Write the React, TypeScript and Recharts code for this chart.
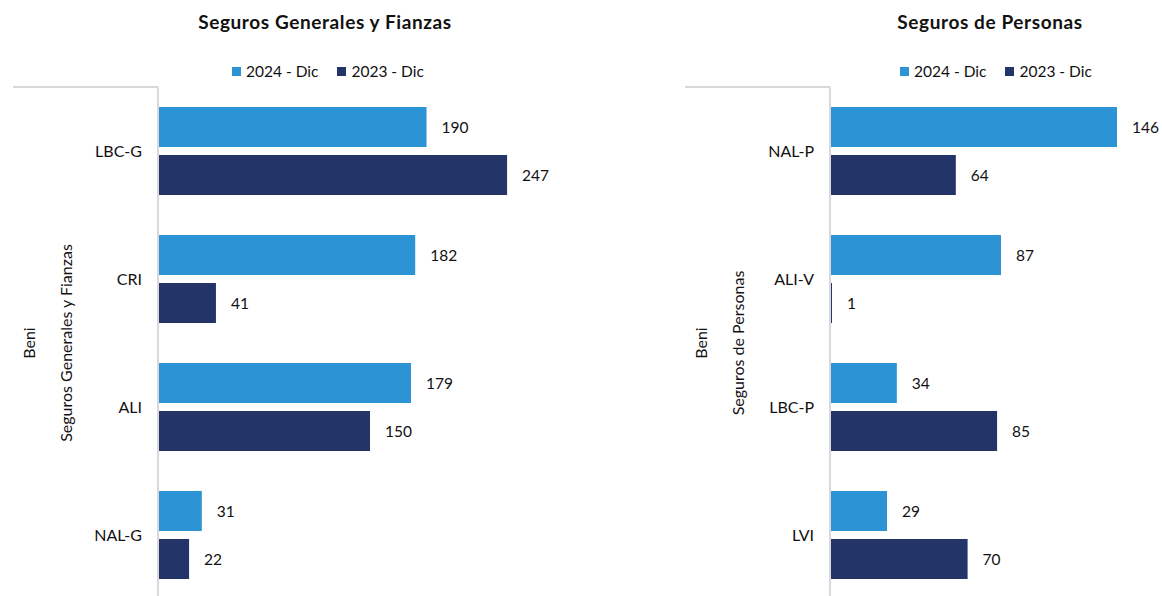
import { BarChart, Bar, XAxis, YAxis, Legend, LabelList } from "recharts";

const categoriesGen = ["LBC-G", "CRI", "ALI", "NAL-G"];
const gen2024 = [190, 182, 179, 31];
const gen2023 = [247, 41, 150, 22];

const categoriesPer = ["NAL-P", "ALI-V", "LBC-P", "LVI"];
const per2024 = [146, 87, 34, 29];
const per2023 = [64, 1, 85, 70];

const seriesNames = ["2024 - Dic", "2023 - Dic"];
const COLORS = ["#2C94D5", "#223468"];
const FONT = "Lato, 'Open Sans', sans-serif";
const GRID = "#d9d9dc";

function GroupLabel({ viewBox, group, region }: any) {
  const { x, y, width, height } = viewBox;
  const right = x + width;
  const cy = y + height / 2;
  return (
    <g>
      <line x1={right - 145} x2={right} y1={y} y2={y} stroke={GRID} strokeWidth={2} />
      <text
        x={right - 93}
        y={cy}
        transform={`rotate(-90 ${right - 93} ${cy})`}
        textAnchor="middle"
        dominantBaseline="central"
        fontSize={16}
        fill="#111"
      >
        {group}
      </text>
      <text
        x={right - 130}
        y={cy}
        transform={`rotate(-90 ${right - 130} ${cy})`}
        textAnchor="middle"
        dominantBaseline="central"
        fontSize={16}
        fill="#111"
      >
        {region}
      </text>
    </g>
  );
}

function LegendContent() {
  return (
    <div style={{ display: "flex", gap: 19, fontSize: 15.5, color: "#111", fontFamily: FONT, whiteSpace: "nowrap" }}>
      {seriesNames.map((n, i) => (
        <div key={n} style={{ display: "flex", alignItems: "center", gap: 5 }}>
          <span style={{ width: 9, height: 9, background: COLORS[i], display: "inline-block" }} />
          <span>{n}</span>
        </div>
      ))}
    </div>
  );
}

interface PanelProps {
  title: string;
  categories: string[];
  a: number[];
  b: number[];
  max: number;
  left: number;
  width: number;
  plotWidth: number;
  titleCenter: number;
  legendLeft: number;
}

function Panel({ title, categories, a, b, max, left, width, plotWidth, titleCenter, legendLeft }: PanelProps) {
  const data = categories.map((c, i) => ({ name: c, v2024: a[i], v2023: b[i] }));
  return (
    <>
      <div
        style={{
          position: "absolute",
          left: titleCenter - 200,
          width: 400,
          top: 10,
          textAlign: "center",
          fontWeight: 700,
          fontSize: 19,
          letterSpacing: 0.6,
          fontFamily: FONT,
          color: "#111",
        }}
      >
        {title}
      </div>
      <div style={{ position: "absolute", left, top: 0 }}>
        <BarChart
          layout="vertical"
          width={width}
          height={600}
          data={data}
          margin={{ top: 87, left: 0, right: width - 158 - plotWidth, bottom: 1 }}
          barCategoryGap={20}
          barGap={8}
          style={{ fontFamily: FONT }}
        >
          <XAxis type="number" hide domain={[0, max]} />
          <YAxis
            type="category"
            dataKey="name"
            width={158}
            axisLine={{ stroke: GRID, strokeWidth: 2 }}
            tickLine={false}
            tickMargin={10}
            tick={{ fill: "#111", fontSize: 16 }}
            label={<GroupLabel group={title} region="Beni" />}
          />
          <Legend
            layout="horizontal"
            verticalAlign="middle"
            align="center"
            wrapperStyle={{ top: 62, left: legendLeft, width: "auto" }}
            content={<LegendContent />}
          />
          <Bar dataKey="v2024" name={seriesNames[0]} fill={COLORS[0]} isAnimationActive={false}>
            <LabelList dataKey="v2024" position="right" offset={15} fill="#111" fontSize={15.5} />
          </Bar>
          <Bar dataKey="v2023" name={seriesNames[1]} fill={COLORS[1]} isAnimationActive={false}>
            <LabelList dataKey="v2023" position="right" offset={15} fill="#111" fontSize={15.5} />
          </Bar>
        </BarChart>
      </div>
    </>
  );
}

export default function App() {
  return (
    <div
      style={{
        position: "absolute",
        left: 0,
        top: 0,
        width: 1162,
        height: 596,
        overflow: "hidden",
        background: "#fff",
        fontFamily: FONT,
      }}
    >
      <Panel
        title="Seguros Generales y Fianzas"
        categories={categoriesGen}
        a={gen2024}
        b={gen2023}
        max={300}
        left={0}
        width={660}
        plotWidth={424}
        titleCenter={325}
        legendLeft={232}
      />
      <Panel
        title="Seguros de Personas"
        categories={categoriesPer}
        a={per2024}
        b={per2023}
        max={160}
        left={672}
        width={490}
        plotWidth={314.5}
        titleCenter={990}
        legendLeft={228}
      />
    </div>
  );
}
